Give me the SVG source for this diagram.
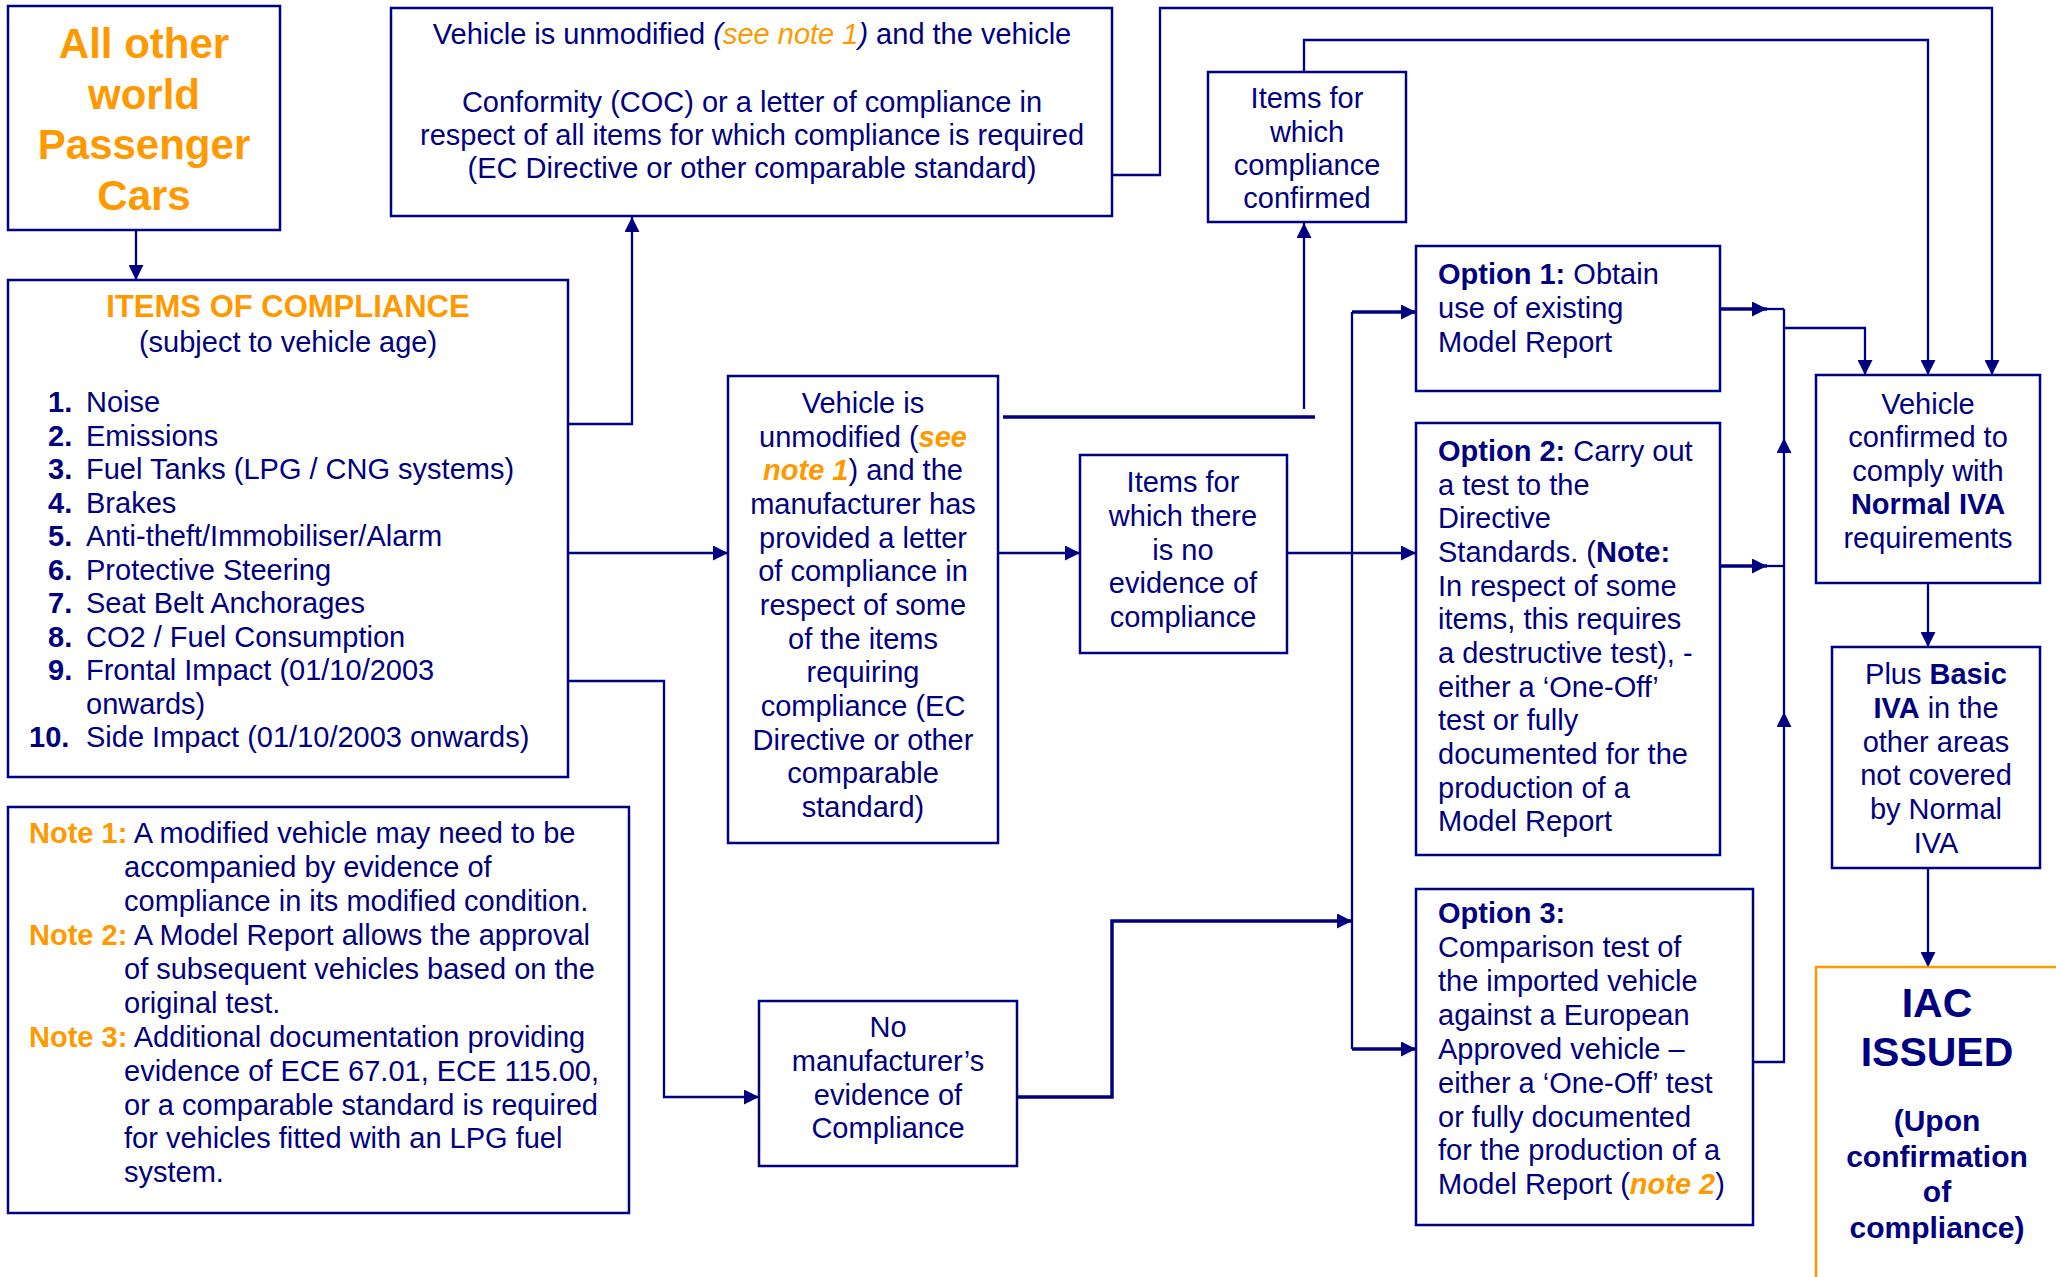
<svg xmlns="http://www.w3.org/2000/svg" width="2056" height="1277" viewBox="0 0 2056 1277">
<style>
  .box{fill:#fff;stroke:#000080;stroke-width:2.5}
  .obox{fill:#fff;stroke:#FF9900;stroke-width:2.5}
  .t{font-family:"Liberation Sans",Arial,sans-serif;font-size:29px;fill:#000080}
  .c{text-anchor:middle}
  .b{font-weight:bold}
  .o{fill:#FF9900}
  .i{font-style:italic}
  .ln{fill:none;stroke:#000080;stroke-width:2.3}
  .thick{stroke-width:3.5}
</style>
<defs>
  <marker id="ah" markerUnits="userSpaceOnUse" markerWidth="15" markerHeight="15" refX="15" refY="7.5" orient="auto">
    <path d="M0,0 L15,7.5 L0,15 z" fill="#000080"/>
  </marker>
</defs>
<rect width="2056" height="1277" fill="#fff"/>

<g id="connectors">
  <path class="ln" d="M136,230 V280" marker-end="url(#ah)"/>
  <path class="ln" d="M568,424 H632 V217" marker-end="url(#ah)"/>
  <path class="ln" d="M568,553 H728" marker-end="url(#ah)"/>
  <path class="ln" d="M568,681 H664 V1097 H759" marker-end="url(#ah)"/>
  <path class="ln" d="M998,553 H1080" marker-end="url(#ah)"/>
  <path class="ln" d="M1287,553 H1416" marker-end="url(#ah)"/>
  <path class="ln thick" d="M1003,417 H1315"/>
  <path class="ln" d="M1304,409 V223" marker-end="url(#ah)"/>
  <path class="ln" d="M1304,72 V40 H1928 V375" marker-end="url(#ah)"/>
  <path class="ln" d="M1112,175 H1160 V8 H1992 V375" marker-end="url(#ah)"/>
  <path class="ln thick" d="M1017,1097 H1112 V921 H1352" marker-end="url(#ah)"/>
  <path class="ln" d="M1352,312 V1049"/>
  <path class="ln thick" d="M1352,312 H1416" marker-end="url(#ah)"/>
  <path class="ln thick" d="M1352,1049 H1416" marker-end="url(#ah)"/>
  <path class="ln thick" d="M1720,309 H1767" marker-end="url(#ah)"/>
  <path class="ln" d="M1767,309 H1784"/>
  <path class="ln thick" d="M1720,566 H1767" marker-end="url(#ah)"/>
  <path class="ln" d="M1767,566 H1784"/>
  <path class="ln" d="M1753,1062 H1784 V712" marker-end="url(#ah)"/>
  <path class="ln" d="M1784,712 V438" marker-end="url(#ah)"/>
  <path class="ln" d="M1784,438 V309"/>
  <path class="ln" d="M1784,328 H1865 V375" marker-end="url(#ah)"/>
  <path class="ln" d="M1928,583 V647" marker-end="url(#ah)"/>
  <path class="ln" d="M1928,868 V967" marker-end="url(#ah)"/>
</g>

<g id="node-all-other">
  <rect class="box" x="8" y="6" width="272" height="224"/>
  <text class="t c b o" style="font-size:42px" x="144" y="58">All other</text>
  <text class="t c b o" style="font-size:42px" x="144" y="108.5">world</text>
  <text class="t c b o" style="font-size:42px" x="144" y="159">Passenger</text>
  <text class="t c b o" style="font-size:42px" x="144" y="209.5">Cars</text>
</g>

<g id="node-items">
  <rect class="box" x="8" y="280" width="560" height="497"/>
  <text class="t c b o" style="font-size:31px" x="288" y="317">ITEMS OF COMPLIANCE</text>
  <text class="t c" x="288" y="352">(subject to vehicle age)</text>
  <text class="t b" x="48" y="412">1.</text><text class="t" x="86" y="412">Noise</text>
  <text class="t b" x="48" y="445.5">2.</text><text class="t" x="86" y="445.5">Emissions</text>
  <text class="t b" x="48" y="479">3.</text><text class="t" x="86" y="479">Fuel Tanks (LPG / CNG systems)</text>
  <text class="t b" x="48" y="512.5">4.</text><text class="t" x="86" y="512.5">Brakes</text>
  <text class="t b" x="48" y="546">5.</text><text class="t" x="86" y="546">Anti-theft/Immobiliser/Alarm</text>
  <text class="t b" x="48" y="579.5">6.</text><text class="t" x="86" y="579.5">Protective Steering</text>
  <text class="t b" x="48" y="613">7.</text><text class="t" x="86" y="613">Seat Belt Anchorages</text>
  <text class="t b" x="48" y="646.5">8.</text><text class="t" x="86" y="646.5">CO2 / Fuel Consumption</text>
  <text class="t b" x="48" y="680">9.</text><text class="t" x="86" y="680">Frontal Impact (01/10/2003</text>
  <text class="t" x="86" y="713.5">onwards)</text>
  <text class="t b" x="29" y="747">10.</text><text class="t" x="86" y="747">Side Impact (01/10/2003 onwards)</text>
</g>

<g id="node-notes">
  <rect class="box" x="8" y="807" width="621" height="406"/>
  <text class="t" x="29" y="843"><tspan class="b o">Note 1:</tspan> A modified vehicle may need to be</text>
  <text class="t" x="124" y="877">accompanied by evidence of</text>
  <text class="t" x="124" y="911">compliance in its modified condition.</text>
  <text class="t" x="29" y="945"><tspan class="b o">Note 2:</tspan> A Model Report allows the approval</text>
  <text class="t" x="124" y="979">of subsequent vehicles based on the</text>
  <text class="t" x="124" y="1013">original test.</text>
  <text class="t" x="29" y="1047"><tspan class="b o">Note 3:</tspan> Additional documentation providing</text>
  <text class="t" x="124" y="1081">evidence of ECE 67.01, ECE 115.00,</text>
  <text class="t" x="124" y="1115">or a comparable standard is required</text>
  <text class="t" x="124" y="1148">for vehicles fitted with an LPG fuel</text>
  <text class="t" x="124" y="1182">system.</text>
</g>

<g id="node-coc">
  <rect class="box" x="391" y="8" width="721" height="208"/>
  <text class="t c" x="752" y="44">Vehicle is unmodified <tspan class="i">(</tspan><tspan class="i o">see note 1</tspan><tspan class="i">)</tspan> and the vehicle</text>
  <text class="t c" x="752" y="112">Conformity (COC) or a letter of compliance in</text>
  <text class="t c" x="752" y="145">respect of all items for which compliance is required</text>
  <text class="t c" x="752" y="178">(EC Directive or other comparable standard)</text>
</g>

<g id="node-some-items">
  <rect class="box" x="728" y="376" width="270" height="467"/>
  <text class="t c" x="863" y="413">Vehicle is</text>
  <text class="t c" x="863" y="447">unmodified (<tspan class="b i o">see</tspan></text>
  <text class="t c" x="863" y="480"><tspan class="b i o">note 1</tspan>) and the</text>
  <text class="t c" x="863" y="514">manufacturer has</text>
  <text class="t c" x="863" y="547.5">provided a letter</text>
  <text class="t c" x="863" y="581">of compliance in</text>
  <text class="t c" x="863" y="615">respect of some</text>
  <text class="t c" x="863" y="648.5">of the items</text>
  <text class="t c" x="863" y="682">requiring</text>
  <text class="t c" x="863" y="716">compliance (EC</text>
  <text class="t c" x="863" y="749.5">Directive or other</text>
  <text class="t c" x="863" y="783">comparable</text>
  <text class="t c" x="863" y="817">standard)</text>
</g>

<g id="node-confirmed">
  <rect class="box" x="1208" y="72" width="198" height="150"/>
  <text class="t c" x="1307" y="108">Items for</text>
  <text class="t c" x="1307" y="142">which</text>
  <text class="t c" x="1307" y="175">compliance</text>
  <text class="t c" x="1307" y="208">confirmed</text>
</g>

<g id="node-no-evidence">
  <rect class="box" x="1080" y="455" width="207" height="198"/>
  <text class="t c" x="1183" y="492">Items for</text>
  <text class="t c" x="1183" y="526">which there</text>
  <text class="t c" x="1183" y="560">is no</text>
  <text class="t c" x="1183" y="593">evidence of</text>
  <text class="t c" x="1183" y="627">compliance</text>
</g>

<g id="node-no-manufacturer">
  <rect class="box" x="759" y="1001" width="258" height="165"/>
  <text class="t c" x="888" y="1037">No</text>
  <text class="t c" x="888" y="1071">manufacturer’s</text>
  <text class="t c" x="888" y="1105">evidence of</text>
  <text class="t c" x="888" y="1138">Compliance</text>
</g>

<g id="node-option1">
  <rect class="box" x="1416" y="246" width="304" height="145"/>
  <text class="t" x="1438" y="284"><tspan class="b">Option 1:</tspan> Obtain</text>
  <text class="t" x="1438" y="318">use of existing</text>
  <text class="t" x="1438" y="352">Model Report</text>
</g>

<g id="node-option2">
  <rect class="box" x="1416" y="423" width="304" height="432"/>
  <text class="t" x="1438" y="461"><tspan class="b">Option 2:</tspan> Carry out</text>
  <text class="t" x="1438" y="495">a test to the</text>
  <text class="t" x="1438" y="528">Directive</text>
  <text class="t" x="1438" y="562">Standards. (<tspan class="b">Note:</tspan></text>
  <text class="t" x="1438" y="595.5">In respect of some</text>
  <text class="t" x="1438" y="629">items, this requires</text>
  <text class="t" x="1438" y="663">a destructive test), -</text>
  <text class="t" x="1438" y="696.5">either a ‘One-Off’</text>
  <text class="t" x="1438" y="730">test or fully</text>
  <text class="t" x="1438" y="764">documented for the</text>
  <text class="t" x="1438" y="797.5">production of a</text>
  <text class="t" x="1438" y="831">Model Report</text>
</g>

<g id="node-option3">
  <rect class="box" x="1416" y="889" width="337" height="336"/>
  <text class="t b" x="1438" y="923">Option 3:</text>
  <text class="t" x="1438" y="957">Comparison test of</text>
  <text class="t" x="1438" y="991">the imported vehicle</text>
  <text class="t" x="1438" y="1025">against a European</text>
  <text class="t" x="1438" y="1059">Approved vehicle –</text>
  <text class="t" x="1438" y="1093">either a ‘One-Off’ test</text>
  <text class="t" x="1438" y="1126.5">or fully documented</text>
  <text class="t" x="1438" y="1160">for the production of a</text>
  <text class="t" x="1438" y="1194">Model Report (<tspan class="b i o">note 2</tspan>)</text>
</g>

<g id="node-normal-iva">
  <rect class="box" x="1816" y="375" width="224" height="208"/>
  <text class="t c" x="1928" y="414">Vehicle</text>
  <text class="t c" x="1928" y="447">confirmed to</text>
  <text class="t c" x="1928" y="480.5">comply with</text>
  <text class="t c b" x="1928" y="514">Normal IVA</text>
  <text class="t c" x="1928" y="548">requirements</text>
</g>

<g id="node-basic-iva">
  <rect class="box" x="1832" y="647" width="208" height="221"/>
  <text class="t c" x="1936" y="684">Plus <tspan class="b">Basic</tspan></text>
  <text class="t c" x="1936" y="718"><tspan class="b">IVA</tspan> in the</text>
  <text class="t c" x="1936" y="752">other areas</text>
  <text class="t c" x="1936" y="785">not covered</text>
  <text class="t c" x="1936" y="819">by Normal</text>
  <text class="t c" x="1936" y="853">IVA</text>
</g>

<g id="node-iac">
  <rect class="obox" x="1816" y="967" width="260" height="330"/>
  <text class="t c b" style="font-size:41px" x="1937" y="1017">IAC</text>
  <text class="t c b" style="font-size:41px" x="1937" y="1066">ISSUED</text>
  <text class="t c b" style="font-size:30px" x="1937" y="1131">(Upon</text>
  <text class="t c b" style="font-size:30px" x="1937" y="1167">confirmation</text>
  <text class="t c b" style="font-size:30px" x="1937" y="1202">of</text>
  <text class="t c b" style="font-size:30px" x="1937" y="1238">compliance)</text>
</g>
</svg>
